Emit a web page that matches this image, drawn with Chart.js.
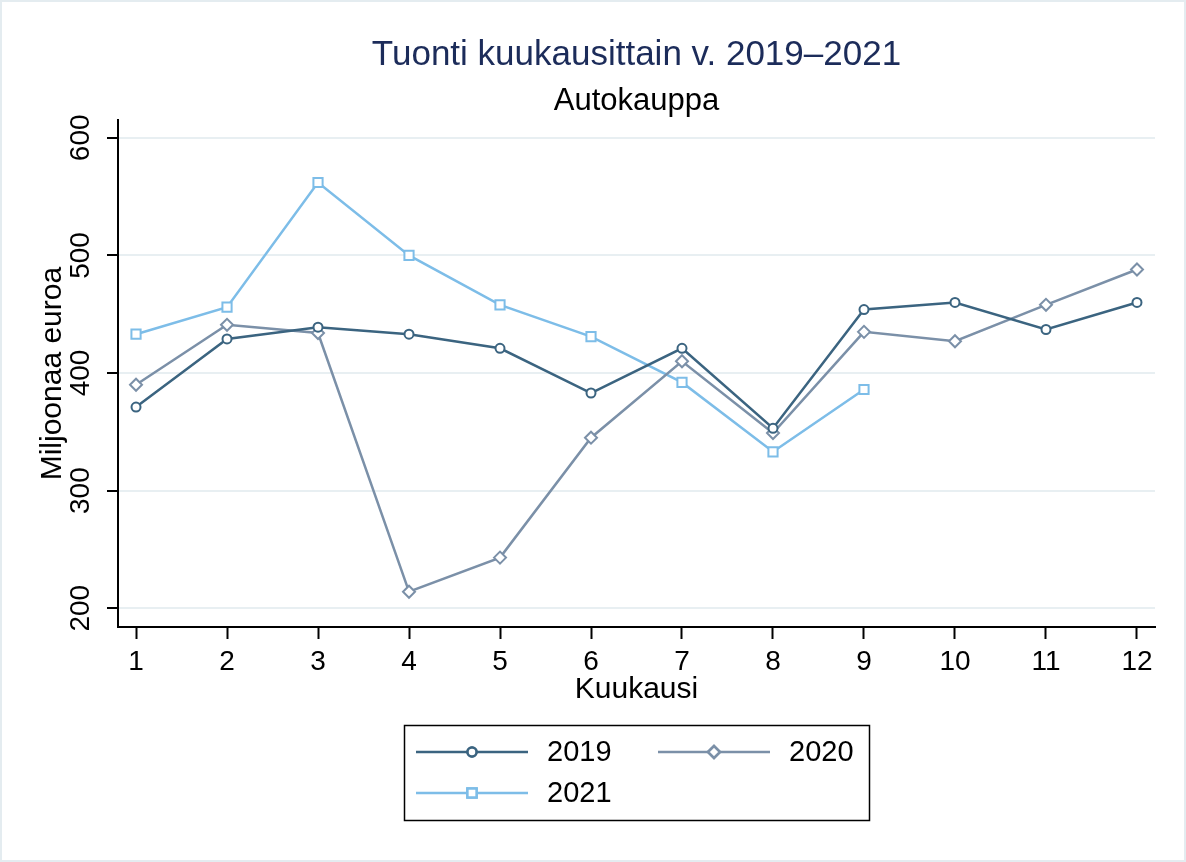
<!DOCTYPE html>
<html>
<head>
<meta charset="utf-8">
<script src="https://cdn.jsdelivr.net/npm/chart.js@4/dist/chart.umd.min.js"></script>
<style>
  html, body { margin: 0; padding: 0; background: #fff; }
  #wrap { width: 1186px; height: 862px; }
</style>
</head>
<body>
<div id="wrap"><canvas id="c" width="1186" height="862"></canvas></div>
<script>
// --- data ---
const MONTHS = [1, 2, 3, 4, 5, 6, 7, 8, 9, 10, 11, 12];
const Y_TICKS = [200, 300, 400, 500, 600];
const V2019 = [371, 429, 439, 433, 421, 383, 421, 353, 454, 460, 437, 460];
const V2020 = [390, 441, 434, 214, 243, 345, 410, 349, 435, 427, 458, 488];
const V2021 = [433, 456, 562, 500, 458, 431, 392, 333, 386];

const C2019 = "#3b6480", C2020 = "#7b90a8", C2021 = "#7dbde8";
const FONT = "'Liberation Sans', Arial, sans-serif";

function pts(vals) { return vals.map((v, i) => ({ x: MONTHS[i], y: v })); }

// legend: line sample with marker in the middle, boxed, 2 columns
const legendBox = {
  id: "legendBox",
  afterDraw(chart) {
    const ctx = chart.ctx;
    ctx.save();
    ctx.strokeStyle = "#000";
    ctx.lineWidth = 1.5;
    ctx.strokeRect(404.5, 725.5, 465, 95);
    const items = [
      { ds: 0, x: 416, y: 752 },
      { ds: 1, x: 658, y: 752 },
      { ds: 2, x: 416, y: 793 },
    ];
    ctx.font = "29px " + FONT;
    ctx.textBaseline = "middle";
    for (const it of items) {
      const d = chart.data.datasets[it.ds];
      ctx.strokeStyle = d.borderColor;
      ctx.lineWidth = 2.5;
      ctx.beginPath();
      ctx.moveTo(it.x, it.y);
      ctx.lineTo(it.x + 112, it.y);
      ctx.stroke();
      ctx.fillStyle = "#fff";
      Chart.helpers.drawPoint(ctx, {
        pointStyle: d.pointStyle, radius: d.pointRadius, borderWidth: 2
      }, it.x + 56, it.y);
      ctx.fill();
      ctx.stroke();
      ctx.fillStyle = "#000";
      ctx.fillText(d.label, it.x + 131, it.y + 1);
    }
    // faint outer frame
    ctx.strokeStyle = "#e4ecf0";
    ctx.lineWidth = 2;
    ctx.strokeRect(1, 1, 1184, 860);
    ctx.restore();
  }
};

new Chart(document.getElementById("c"), {
  type: "line",
  data: {
    datasets: [
      { label: "2019", data: pts(V2019), borderColor: C2019, pointStyle: "circle", pointRadius: 4.5 },
      { label: "2020", data: pts(V2020), borderColor: C2020, pointStyle: "rectRot", pointRadius: 6 },
      { label: "2021", data: pts(V2021), borderColor: C2021, pointStyle: "rect", pointRadius: 6.5 },
    ].map(d => Object.assign(d, {
      borderWidth: 2.5, tension: 0, pointBackgroundColor: "#fff",
      pointBorderColor: d.borderColor, pointBorderWidth: 2, clip: false,
    })),
  },
  options: {
    responsive: false,
    animation: false,
    layout: { padding: { left: 0, right: 31, top: 0, bottom: 147 } },
    plugins: {
      legend: { display: false },
      tooltip: { enabled: false },
      title: {
        display: true, text: "Tuonti kuukausittain v. 2019–2021", fullSize: false,
        color: "#1c2c5a", font: { family: FONT, size: 35, weight: "normal", lineHeight: 1.2 },
        padding: { top: 34, bottom: 7 },
      },
      subtitle: {
        display: true, text: "Autokauppa", fullSize: false,
        color: "#000", font: { family: FONT, size: 31, weight: "normal", lineHeight: 1.2 },
        padding: { top: 0, bottom: 0 },
      },
    },
    scales: {
      x: {
        type: "linear", min: 0.802, max: 12.198,
        afterBuildTicks: s => { s.ticks = MONTHS.map(v => ({ value: v })); },
        afterFit: s => { s.height = 88; },
        grid: { drawOnChartArea: false, drawTicks: true, tickLength: 12, tickColor: "#000", tickWidth: 2 },
        border: { color: "#000", width: 2 },
        ticks: { color: "#000", font: { family: FONT, size: 28 }, padding: 6, maxRotation: 0 },
        title: { display: true, text: "Kuukausi", color: "#000",
          font: { family: FONT, size: 30 }, padding: { top: 0, bottom: 7 } },
      },
      y: {
        type: "linear", min: 184, max: 615,
        afterBuildTicks: s => { s.ticks = Y_TICKS.map(v => ({ value: v })); },
        afterFit: s => { s.width = 118; },
        grid: { color: "#e8eff2", lineWidth: 2, drawTicks: true, tickLength: 11, tickColor: "#000", tickWidth: 2 },
        border: { color: "#000", width: 2 },
        ticks: { color: "#000", font: { family: FONT, size: 28 }, minRotation: 90, maxRotation: 90,
          crossAlign: "center", padding: 2 },
        title: { display: true, text: "Miljoonaa euroa", color: "#000",
          font: { family: FONT, size: 30 }, padding: { top: 35, bottom: 0 } },
      },
    },
  },
  plugins: [legendBox],
});
</script>
</body>
</html>
